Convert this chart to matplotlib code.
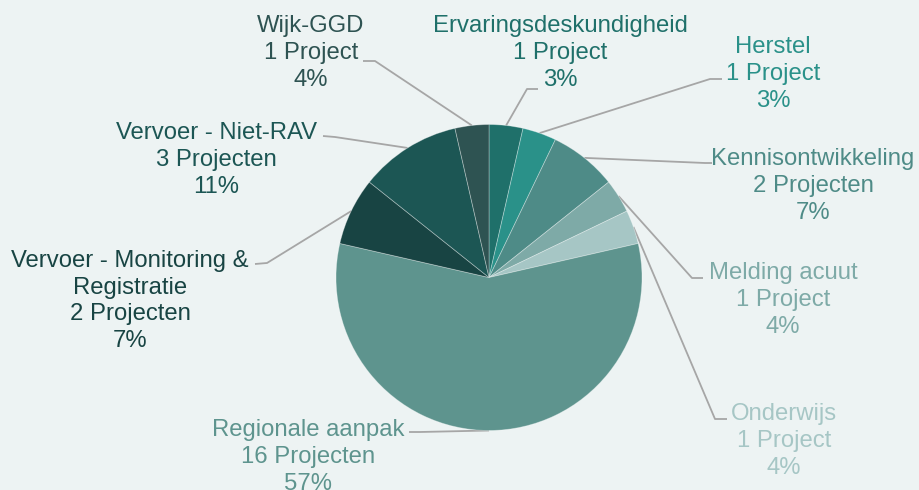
import numpy as np
import matplotlib
matplotlib.use("Agg")
import matplotlib.pyplot as plt

plt.rcParams['font.family'] = ['Liberation Sans', 'DejaVu Sans']

# projects per theme, clockwise from twelve o'clock
themes = ["Ervaringsdeskundigheid", "Herstel", "Kennisontwikkeling", "Melding acuut",
          "Onderwijs", "Regionale aanpak", "Vervoer - Monitoring &\nRegistratie",
          "Vervoer - Niet-RAV", "Wijk-GGD"]
projects = [1, 1, 2, 1, 1, 16, 2, 3, 1]
pct_labels = ["3%", "3%", "7%", "4%", "4%", "57%", "7%", "11%", "4%"]
colors = ["#1f706a", "#2a9189", "#4e8b87", "#7eaaa7", "#a6c6c5",
          "#5e948e", "#184443", "#1c5654", "#2e5352"]

BG = "#edf3f3"
W, H = 919, 490

# label text centre, leader elbow and leader end (pixels from top-left)
label_pos = [(560, 53), (773, 74), (813, 186), (783, 300), (784, 441),
             (308, 457), (130, 301), (216, 160), (311, 53)]
elbows = [(527, 89), (710, 79), (705, 163), (692, 278), (715, 419),
          (420, 432), (267, 263), (335, 137), (375, 61)]
ends = [(538, 89), (722, 79), (712, 163), (703, 278), (727, 419),
        (409, 432), (255, 264), (323, 136), (363, 61)]

fig = plt.figure(figsize=(W / 100, H / 100), dpi=100, facecolor=BG)
ax = fig.add_axes([0, 0, 1, 1])
ax.set_facecolor(BG)

cx, cy, r = 489, H - 277.5, 153
wedges, _ = ax.pie(projects, colors=colors, startangle=90, counterclock=False,
                   center=(cx, cy), radius=r,
                   wedgeprops=dict(edgecolor=(1, 1, 1, 0.35), linewidth=0.6))

for i, w in enumerate(wedges):
    mid = np.deg2rad((w.theta1 + w.theta2) / 2)
    ax_x, ax_y = cx + r * np.cos(mid), cy + r * np.sin(mid)
    ex, ey = elbows[i]
    tx, ty = ends[i]
    ax.plot([ax_x, ex, tx], [ax_y, H - ey, H - ty], color="#a6a6a6", lw=1.3,
            solid_capstyle="butt", zorder=0.5)
    unit = "Project" if projects[i] == 1 else "Projecten"
    text = f"{themes[i]}\n{projects[i]} {unit}\n{pct_labels[i]}"
    lx, ly = label_pos[i]
    ax.text(lx, H - ly, text, ha="center", va="center", fontsize=17.2,
            color=colors[i], linespacing=1.27)

ax.set_xlim(0, W)
ax.set_ylim(0, H)
ax.set_aspect("equal")
ax.axis("off")

fig.savefig("out.png", dpi=100, facecolor=BG)
